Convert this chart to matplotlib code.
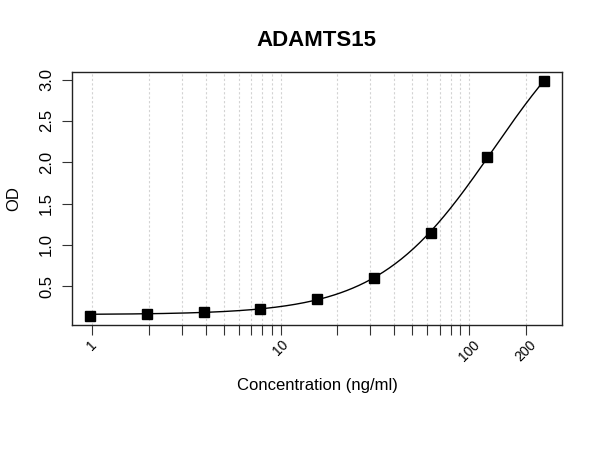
import numpy as np
import matplotlib
matplotlib.use("Agg")
import matplotlib.pyplot as plt

plt.rcParams['font.family'] = ['Liberation Sans', 'DejaVu Sans']

# standard curve data
conc = [0.977, 1.953, 3.906, 7.8125, 15.625, 31.25, 62.5, 125, 250]
od = [0.146, 0.165, 0.19, 0.23, 0.35, 0.605, 1.145, 2.063, 2.983]

x_ticks = [1, 2, 3, 4, 5, 6, 7, 8, 9, 10, 20, 30, 40, 50, 60, 70, 80, 90, 100, 200]
x_labels = ['1', '', '', '', '', '', '', '', '', '10',
            '', '', '', '', '', '', '', '', '100', '200']
y_ticks = [0.5, 1.0, 1.5, 2.0, 2.5, 3.0]


def four_pl(p, x):
    a, b, logc, d = p
    return d + (a - d) / (1 + np.exp(b * (np.log(x) - logc)))


def fit_four_pl(x, y, p0, n_iter=500):
    # simple Levenberg-Marquardt
    p = np.array(p0, dtype=float)
    lam = 1e-2
    for _ in range(n_iter):
        r = y - four_pl(p, x)
        J = np.zeros((len(x), len(p)))
        for k in range(len(p)):
            dp = np.zeros_like(p)
            dp[k] = 1e-6 * max(1.0, abs(p[k]))
            J[:, k] = (four_pl(p + dp, x) - four_pl(p - dp, x)) / (2 * dp[k])
        A = J.T @ J
        g = J.T @ r
        step = np.linalg.solve(A + lam * np.diag(np.diag(A)), g)
        p_new = p + step
        if np.sum((y - four_pl(p_new, x)) ** 2) < np.sum(r ** 2):
            p = p_new
            lam *= 0.5
        else:
            lam *= 3
    return p


x = np.array(conc)
y = np.array(od)
params = fit_four_pl(x, y, [0.15, 1.5, np.log(100), 4.0])
xs = np.logspace(np.log10(x.min()), np.log10(x.max()), 300)
ys = four_pl(params, xs)

fig = plt.figure(figsize=(6, 4.5), dpi=100)
ax = fig.add_axes([0.12, 0.278, 0.817, 0.563])

for t in x_ticks:
    ax.axvline(t, color='#d3d3d3', linestyle=(0, (2, 2)), linewidth=0.8, zorder=0)

ax.plot(xs, ys, color='black', linewidth=1)
ax.plot(x, y, 's', color='black', markersize=7)

ax.set_xscale('log')
lx = np.log10(x)
span = lx.max() - lx.min()
ax.set_xlim(10 ** (lx.min() - 0.04 * span), 10 ** (lx.max() + 0.04 * span))
yspan = y.max() - y.min()
ax.set_ylim(y.min() - 0.04 * yspan, y.max() + 0.04 * yspan)

ax.xaxis.set_minor_locator(matplotlib.ticker.NullLocator())
ax.set_xticks(x_ticks)
ax.set_xticklabels(x_labels, rotation=45, fontsize=10, ha='center')
ax.set_yticks(y_ticks)
ax.set_yticklabels([f'{v:.1f}' for v in y_ticks], rotation=90, va='center', fontsize=12)
ax.tick_params(axis='both', length=7, width=0.8, color='#333333')
ax.tick_params(axis='x', pad=2)
ax.tick_params(axis='y', pad=6)

for s in ax.spines.values():
    s.set_linewidth(1.0)
    s.set_color('#222222')

ax.set_xlabel('Concentration (ng/ml)', fontsize=12, labelpad=10)
ax.set_ylabel('OD', fontsize=12, labelpad=13)
fig.text(0.528, 1 - 40 / 450, 'ADAMTS15', fontsize=16, fontweight='bold',
         ha='center', va='center')

fig.savefig('out.png', dpi=100)
